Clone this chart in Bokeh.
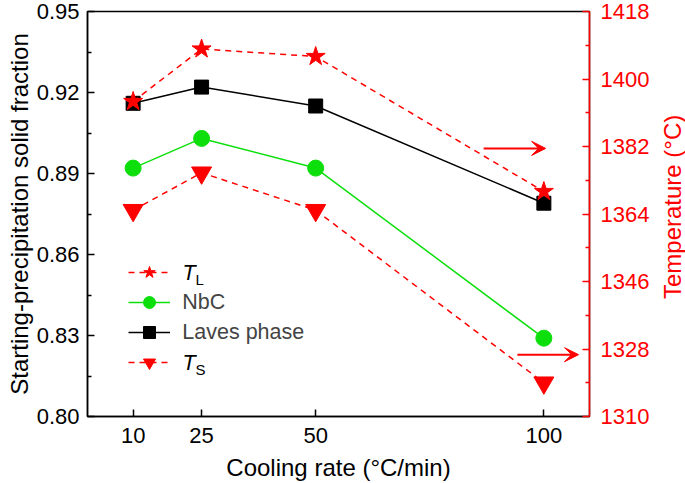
import math
from bokeh.plotting import figure
from bokeh.layouts import row
from bokeh.core.properties import value
from bokeh.models import (Range1d, LinearAxis, FixedTicker, Legend, LegendItem,
                          Arrow, VeeHead, Label, PrintfTickFormatter)
from bokeh.embed import file_html
from bokeh.resources import INLINE

# ---- data ----
cooling_rate = [10, 25, 50, 100]
laves_phase = [0.916, 0.922, 0.915, 0.879]
nbc = [0.892, 0.903, 0.892, 0.829]
t_liquidus = [1394, 1408, 1406, 1370]
t_solidus = [1365, 1375, 1365, 1319]

x_ticks = [10, 25, 50, 100]
left_ticks = [0.80, 0.83, 0.86, 0.89, 0.92, 0.95]
left_minor = [0.815, 0.845, 0.875, 0.905, 0.935]
right_ticks = [1310, 1328, 1346, 1364, 1382, 1400, 1418]
right_minor = [1319, 1337, 1355, 1373, 1391, 1409]

FONT = "Liberation Sans"
RED = "#ff0000"
GREEN = "#0ddf0d"
BLACK = "#000000"

p = figure(width=659, height=483, output_backend="svg", toolbar_location=None,
           x_range=Range1d(0, 110), y_range=Range1d(0.80, 0.95),
           min_border_left=87, min_border_right=70, min_border_top=11,
           min_border_bottom=67)
p.extra_y_ranges = {"temp": Range1d(1310, 1418)}
p.xgrid.visible = False
p.ygrid.visible = False
p.outline_line_color = BLACK
p.outline_line_width = 1.5


def style_axis(ax, color, minor=True):
    ax.axis_line_color = color
    ax.axis_line_width = 1.5
    ax.major_tick_line_color = color
    ax.major_tick_line_width = 1.5
    ax.major_tick_in = 7
    ax.major_tick_out = 0
    if minor:
        ax.minor_tick_line_color = color
        ax.minor_tick_line_width = 1.5
        ax.minor_tick_in = 4
        ax.minor_tick_out = 0
    else:
        ax.minor_tick_line_color = None
    ax.major_label_text_color = color
    ax.major_label_text_font = FONT
    ax.major_label_text_font_size = "22px"
    ax.axis_label_text_color = color
    ax.axis_label_text_font = FONT
    ax.axis_label_text_font_size = "24px"
    ax.axis_label_text_font_style = "normal"


xa = p.xaxis[0]
xa.ticker = FixedTicker(ticks=x_ticks)
xa.axis_label = "Cooling rate (°C/min)"
style_axis(xa, BLACK, minor=False)
xa.major_label_standoff = 11
xa.axis_label_standoff = 8

ya = p.yaxis[0]
ya.ticker = FixedTicker(ticks=left_ticks, minor_ticks=left_minor)
ya.formatter = PrintfTickFormatter(format="%.2f")
ya.axis_label = "Starting-precipitation solid fraction"
style_axis(ya, BLACK)
ya.major_label_standoff = 8
ya.axis_label_standoff = 1

ra = LinearAxis(y_range_name="temp")
ra.ticker = FixedTicker(ticks=right_ticks, minor_ticks=right_minor)
style_axis(ra, RED)
ra.major_label_standoff = 11
p.add_layout(ra, "right")

# ---- series ----
nbc_line = p.line(cooling_rate, nbc, line_color=GREEN, line_width=1.5)
nbc_pts = p.scatter(cooling_rate, nbc, marker="circle", size=16,
                    fill_color=GREEN, line_color=GREEN)

lav_line = p.line(cooling_rate, laves_phase, line_color=BLACK, line_width=1.5)
lav_pts = p.scatter(cooling_rate, laves_phase, marker="square", size=14,
                    fill_color=BLACK, line_color=BLACK)

ts_line = p.line(cooling_rate, t_solidus, y_range_name="temp", line_color=RED,
                 line_width=1.5, line_dash="6 5")
ts_pts = p.scatter(cooling_rate, t_solidus, y_range_name="temp",
                   marker="inverted_triangle", size=20,
                   fill_color=RED, line_color=RED)

tl_line = p.line(cooling_rate, t_liquidus, y_range_name="temp", line_color=RED,
                 line_width=1.5, line_dash="6 5")
tl_pts = p.scatter(cooling_rate, t_liquidus, y_range_name="temp",
                   marker="star", size=20, fill_color=RED, line_color=RED)

# ---- arrows pointing to the right axis ----
for xs, xe, yy in [(86.8, 100.4, 0.8993), (94.2, 107.6, 0.8229)]:
    p.add_layout(Arrow(end=VeeHead(size=14, fill_color=RED, line_color=RED),
                       x_start=xs, y_start=yy, x_end=xe, y_end=yy,
                       line_color=RED, line_width=2))

# ---- legend ----
LEG_X, LEG_Y, ROW = 41.3, 39, 30
legend = Legend(items=[
    LegendItem(label=" ", renderers=[tl_line, tl_pts]),
    LegendItem(label="NbC", renderers=[nbc_line, nbc_pts]),
    LegendItem(label="Laves phase", renderers=[lav_line, lav_pts]),
    LegendItem(label=" ", renderers=[ts_line, ts_pts]),
], location=(LEG_X, LEG_Y), glyph_width=42, glyph_height=ROW, label_height=ROW,
    spacing=0, padding=0, margin=0, label_standoff=12,
    label_text_font=FONT, label_text_font_size="21.5px",
    background_fill_alpha=0, border_line_alpha=0)
p.add_layout(legend)

for row_pos, sub in [(3.5, "L"), (0.5, "S")]:
    yy = LEG_Y + row_pos * ROW
    p.add_layout(Label(x=95, y=yy, x_units="screen", y_units="screen", text="T",
                       text_font=FONT, text_font_size="21.5px", text_font_style="italic",
                       text_baseline="middle", text_color=BLACK))
    p.add_layout(Label(x=95 + 13, y=yy - 7, x_units="screen", y_units="screen",
                       text=sub, text_font=FONT, text_font_size="15px",
                       text_baseline="middle", text_color=BLACK))

# ---- narrow strip holding the right-axis title (reads bottom-to-top) ----
t = figure(width=26, height=483, output_backend="svg", toolbar_location=None,
           x_range=Range1d(0, 1), y_range=Range1d(0, 483),
           x_axis_location=None, y_axis_location=None, min_border=0)
t.grid.visible = False
t.outline_line_color = None
t.text(x=[0.5], y=[250], text=["Temperature (°C)"], angle=math.pi / 2,
       text_align="center", text_baseline="middle",
       text_font=value(FONT), text_font_size="24px", text_color=RED)

layout = row(p, t)
open("out.html", "w").write(file_html(layout, INLINE))
